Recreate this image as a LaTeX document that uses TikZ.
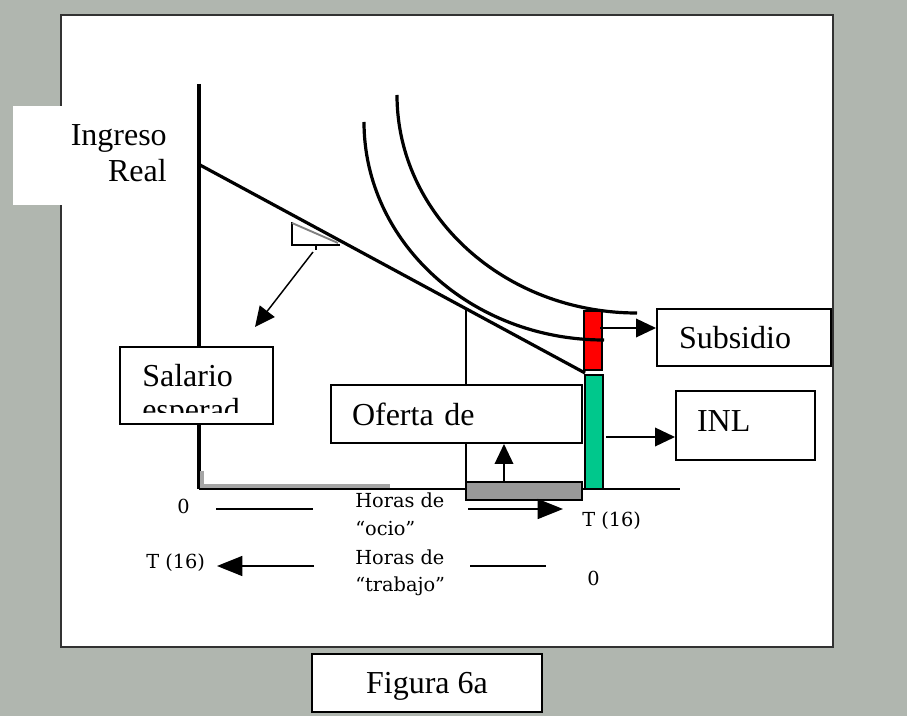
\documentclass[tikz,border=0pt]{standalone}
\usepackage{fontspec}
\setmainfont{Liberation Serif}
\newfontfamily\axisfont{DejaVu Serif}
\usetikzlibrary{arrows.meta,positioning}
\definecolor{bggray}{RGB}{176,182,175}
\definecolor{framegray}{RGB}{50,50,50}
\definecolor{bargray}{RGB}{153,153,153}
\definecolor{axisgray}{RGB}{165,165,165}
\definecolor{subred}{RGB}{255,0,0}
\definecolor{inlgreen}{RGB}{0,200,140}
\tikzset{
  lbl/.style={font=\fontsize{24}{28}\selectfont,inner sep=0pt},
  ax/.style={font=\axisfont\fontsize{14.5}{17}\selectfont,inner sep=0pt},
  box/.style={draw,fill=white,line width=1.5pt,inner sep=0pt},
  bar/.style={draw,line width=1pt,inner sep=0pt},
  tip/.style={-{Triangle[length=15pt,width=14pt]},line width=1.1pt},
  bigtip/.style={-{Triangle[length=19pt,width=15pt]},line width=1.1pt},
  curve/.style={line width=2.4pt},
}

\begin{document}
\begin{tikzpicture}[x=0.75pt,y=-0.75pt]
\useasboundingbox (0,0) rectangle (907,716);
\fill[bggray] (0,0) rectangle (907,716);
\draw[framegray,fill=white,line width=1.6pt] (61,15) rectangle (833,647);
\fill[white] (13,106) rectangle (66,205);
\node[lbl,anchor=base east] (ingreso) at (167,146) {Ingreso};
\node[lbl,anchor=base east] (real) at (167,182) {Real};

% axes
\coordinate (O) at (199,489);
\draw[line width=2.4pt] (199,84) -- (O);
\draw[line width=2pt] (O) -- (680,489);
\draw[axisgray,line width=2.4pt] (202,471) -- (202,486) -- (390,486);
\draw[line width=1.1pt] (466,310) -- (466,489);

% bars
\node[bar,fill=bargray,minimum width=87pt,minimum height=13.5pt] (ocio) at (524,491) {};
\node[bar,fill=subred,minimum width=13.5pt,minimum height=44.25pt] (redbar) at (593,340.5) {};
\node[bar,fill=inlgreen,minimum width=13.5pt,minimum height=85.5pt] (greenbar) at (594,432) {};

% budget line, curves
\coordinate (wage) at (200,165);
\coordinate (kink) at (585,373);
\draw[line width=2.4pt] (wage) -- (kink);
\draw[curve] (397,95) .. controls (397,215) and (504,313) .. (637,313);
\draw[curve] (364,122) .. controls (364,242) and (471,340) .. (604,340);

% slope
\draw[line width=0.9pt] (292,222) -- (292,245) -- (340,245);
\draw[gray,line width=1.4pt] (292,223) -- (338,243);
\draw[line width=0.9pt] (316,245) -- (316,250);
\coordinate (slopetick) at (313,252);
\coordinate (slopeend) at (255,327);
\draw[tip] (slopetick) -- (slopeend);

% boxes
\node[box,minimum width=114.75pt,minimum height=57.75pt] (salario) at (196.5,385.5) {};
\begin{scope}
\clip (123,350) rectangle (270,413);
\node[lbl,anchor=base west] (sal1) at (142,387) {Salario};
\node[lbl,anchor=base west] (sal2) at (142,421) {esperad};
\end{scope}
\node[lbl,box,minimum height=43.5pt,text width=156.75pt,inner xsep=15.75pt,align=left] (oferta) at (456.5,414) {Oferta de};
\node[lbl,box,minimum height=42.75pt,text width=97.5pt,inner xsep=16.5pt,align=left] (subsidio) at (744,337.5) {Subsidio};
\node[lbl,box,minimum height=51.75pt,text width=72.75pt,text depth=6pt,inner xsep=15.75pt,align=left] (inl) at (745.5,425.5) {INL};
\node[lbl,box,minimum width=172.5pt,minimum height=43.5pt,text depth=0pt] (figura) at (427,683) {Figura 6a};

% pointers
\coordinate (upfoot) at (504,482);
\draw[tip] (upfoot) -- (upfoot |- oferta.south);
\coordinate (subfoot) at (600,328);
\draw[tip] (subfoot) -- (subfoot -| subsidio.west);
\coordinate (inlfoot) at (606,437);
\draw[tip] (inlfoot) -- (inlfoot -| inl.west);

% hours scales
\node[ax,anchor=base west] (zeroA) at (177,513) {0};
\node[ax,anchor=base west] (horasA) at (355,508) {Horas de};
\node[ax,anchor=base west] (ocioA) at (355,535) {“ocio”};
\node[ax,anchor=base west] (tA) at (582,527) {T (16)};
\coordinate (a1) at (216,509);
\coordinate (a2) at (313,509);
\coordinate (a3) at (468,509);
\coordinate (a4) at (563,509);
\draw[line width=1.1pt] (a1) -- (a2);
\draw[bigtip] (a3) -- (a4);
\node[ax,anchor=base west] (tB) at (146,568) {T (16)};
\node[ax,anchor=base west] (horasB) at (355,564) {Horas de};
\node[ax,anchor=base west] (trabajoB) at (355,591) {“trabajo”};
\node[ax,anchor=base west] (zeroB) at (587,585) {0};
\coordinate (b1) at (314,566);
\coordinate (b2) at (217,566);
\coordinate (b3) at (470,566);
\coordinate (b4) at (546,566);
\draw[bigtip] (b1) -- (b2);
\draw[line width=1.1pt] (b3) -- (b4);
\end{tikzpicture}
\end{document}
